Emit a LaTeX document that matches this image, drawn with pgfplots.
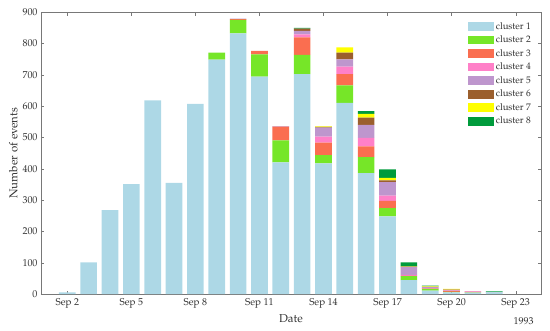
\documentclass[border=0pt]{standalone}
\usepackage{fontspec}
\setmainfont{TeX Gyre Pagella}
\usepackage{pgfplots}
\pgfplotsset{compat=1.18}
\definecolor{c1}{RGB}{173,216,230}
\definecolor{c2}{RGB}{118,230,40}
\definecolor{c3}{RGB}{250,110,80}
\definecolor{c4}{RGB}{255,128,200}
\definecolor{c5}{RGB}{190,150,205}
\definecolor{c6}{RGB}{155,95,45}
\definecolor{c7}{RGB}{255,255,0}
\definecolor{c8}{RGB}{0,155,60}
\definecolor{axgray}{RGB}{120,120,120}
\definecolor{txt}{RGB}{50,50,50}
\begin{document}
\begin{tikzpicture}
\useasboundingbox (-41bp,-37bp) rectangle (509bp,294bp);
\begin{axis}[
  at={(0,0)}, anchor=south west,
  scale only axis, width=500bp, height=282bp,
  ybar stacked, bar width=0.78,
  xmin=0.768, xmax=24.19, ymin=0, ymax=900,
  xtick={2,5,8,11,14,17,20,23},
  xticklabels={Sep 2,Sep 5,Sep 8,Sep 11,Sep 14,Sep 17,Sep 20,Sep 23},
  ytick={0,100,...,900},
  tick pos=both, tick align=inside, major tick length=3.5bp,
  axis line style={axgray}, tick style={axgray},
  every tick label/.append style={font=\fontsize{10}{12}\selectfont, text=txt},
  /pgf/number format/assume math mode=true,
  xlabel={Date}, ylabel={Number of events},
  label style={font=\fontsize{11.5}{13}\selectfont, text=txt},
  xlabel style={at={(axis description cs:0.5,0)}, anchor=north, yshift=-17bp},
  ylabel style={at={(axis description cs:0,0.5)}, anchor=south, yshift=20bp},
  xticklabel style={yshift=-1bp},
  legend style={at={(1,1)}, anchor=north east, xshift=-6bp, yshift=-6bp,
    draw=none, fill=none, font=\fontsize{9.5}{11}\selectfont, text=txt,
    row sep=1.2bp, inner sep=2bp},
  legend cell align=left,
  legend image code/.code={\fill[#1] (0bp,-4.4bp) rectangle (26bp,4.4bp);},
  every axis plot/.append style={draw=none},
  clip=false,
]
\addplot[fill=c1] coordinates {(2,5) (3,101) (4,268) (5,351) (6,618) (7,355) (8,607) (9,748) (10,832) (11,694) (12,420) (13,702) (14,417) (15,610) (16,386) (17,248) (18,44) (19,11) (20,5) (21,4) (22,5)};
\addplot[fill=c2] coordinates {(2,0) (3,0) (4,0) (5,0) (6,0) (7,0) (8,0) (9,22) (10,43) (11,71) (12,70) (13,61) (14,26) (15,56) (16,51) (17,26) (18,13) (19,5) (20,2) (21,1) (22,0)};
\addplot[fill=c3] coordinates {(2,0) (3,0) (4,0) (5,0) (6,0) (7,0) (8,0) (9,0) (10,2) (11,11) (12,44) (13,56) (14,40) (15,36) (16,34) (17,23) (18,1) (19,1) (20,3) (21,2) (22,0)};
\addplot[fill=c4] coordinates {(2,0) (3,0) (4,0) (5,0) (6,0) (7,0) (8,0) (9,0) (10,0) (11,0) (12,0) (13,10) (14,19) (15,24) (16,27) (17,17) (18,3) (19,2) (20,1) (21,1) (22,0)};
\addplot[fill=c5] coordinates {(2,0) (3,0) (4,0) (5,0) (6,0) (7,0) (8,0) (9,0) (10,2) (11,0) (12,2) (13,11) (14,29) (15,23) (16,42) (17,43) (18,25) (19,4) (20,2) (21,1) (22,1)};
\addplot[fill=c6] coordinates {(2,0) (3,0) (4,0) (5,0) (6,0) (7,0) (8,0) (9,0) (10,0) (11,0) (12,0) (13,7) (14,2) (15,21) (16,23) (17,6) (18,1) (19,0) (20,1) (21,0) (22,0)};
\addplot[fill=c7] coordinates {(2,0) (3,0) (4,0) (5,0) (6,0) (7,0) (8,0) (9,0) (10,0) (11,0) (12,0) (13,0) (14,2) (15,17) (16,12) (17,8) (18,1) (19,1) (20,2) (21,0) (22,0)};
\addplot[fill=c8] coordinates {(2,0) (3,0) (4,0) (5,0) (6,0) (7,0) (8,0) (9,0) (10,0) (11,0) (12,0) (13,2) (14,0) (15,0) (16,9) (17,27) (18,13) (19,3) (20,0) (21,0) (22,2)};
\legend{cluster 1,cluster 2,cluster 3,cluster 4,cluster 5,cluster 6,cluster 7,cluster 8}
\node[font=\fontsize{10}{12}\selectfont, text=txt, anchor=center] at (axis cs:23,0) [xshift=8bp, yshift=-27bp] {1993};
\end{axis}
\end{tikzpicture}
\end{document}
